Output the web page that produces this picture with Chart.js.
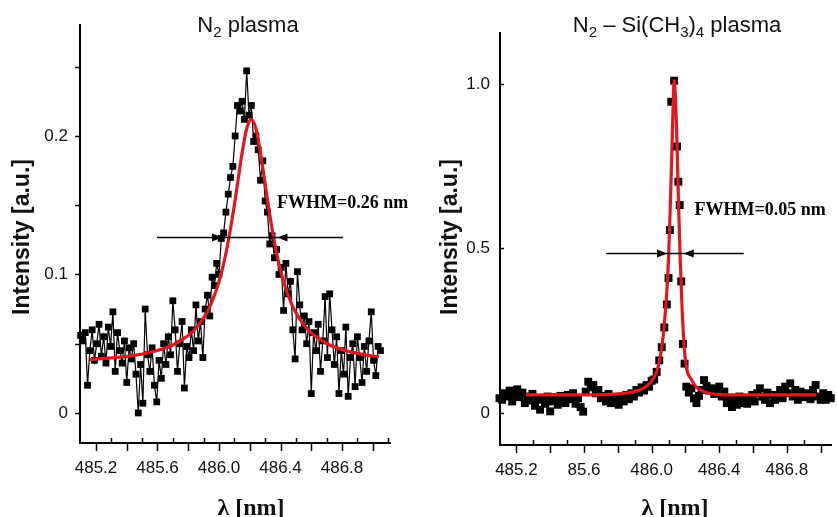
<!DOCTYPE html>
<html>
<head>
<meta charset="utf-8">
<script src="https://cdn.jsdelivr.net/npm/chart.js@4.4.1/dist/chart.umd.min.js"></script>
<style>
  html, body { margin: 0; padding: 0; background: #fff; overflow: hidden; }
  #left { position: absolute; left: 0; top: 0; }
  #right { position: absolute; left: 420px; top: 0; }
</style>
</head>
<body>
<canvas id="left" width="420" height="517"></canvas>
<canvas id="right" width="417" height="517"></canvas>
<script>
// N2 plasma - measured points (wavelength nm / intensity a.u.)
const n2Wavelength = [
  485.1, 485.115, 485.13, 485.145, 485.16, 485.175, 485.19, 485.205, 485.22, 485.235,
  485.25, 485.265, 485.28, 485.295, 485.31, 485.325, 485.34, 485.355, 485.37, 485.385,
  485.4, 485.415, 485.43, 485.445, 485.46, 485.475, 485.49, 485.505, 485.52, 485.535,
  485.55, 485.565, 485.58, 485.595, 485.61, 485.625, 485.64, 485.655, 485.67, 485.685,
  485.7, 485.715, 485.73, 485.745, 485.76, 485.775, 485.79, 485.805, 485.82, 485.835,
  485.85, 485.865, 485.88, 485.895, 485.91, 485.925, 485.94, 485.955, 485.97, 485.985,
  486, 486.015, 486.03, 486.045, 486.06, 486.075, 486.09, 486.105, 486.12, 486.135,
  486.15, 486.165, 486.18, 486.195, 486.21, 486.225, 486.24, 486.255, 486.27, 486.285,
  486.3, 486.315, 486.33, 486.345, 486.36, 486.375, 486.39, 486.405, 486.42, 486.435,
  486.45, 486.465, 486.48, 486.495, 486.51, 486.525, 486.54, 486.555, 486.57, 486.585,
  486.6, 486.615, 486.63, 486.645, 486.66, 486.675, 486.69, 486.705, 486.72, 486.735,
  486.75, 486.765, 486.78, 486.795, 486.81, 486.825, 486.84, 486.855, 486.87, 486.885,
  486.9, 486.915, 486.93, 486.945, 486.96, 486.975, 486.99, 487.005, 487.02, 487.035,
  487.05
]
const n2Intensity = [
  0.056, 0.052, 0.058, 0.020, 0.045, 0.060, 0.038, 0.050, 0.064, 0.041,
  0.055, 0.036, 0.062, 0.048, 0.073, 0.030, 0.058, 0.045, 0.036, 0.052,
  0.022, 0.047, 0.039, 0.050, 0.028, 0.000, 0.035, 0.007, 0.075, 0.042,
  0.030, 0.047, 0.020, 0.008, 0.038, 0.025, 0.050, 0.035, 0.055, 0.042,
  0.081, 0.060, 0.030, 0.050, 0.066, 0.018, 0.048, 0.040, 0.060, 0.045,
  0.078, 0.052, 0.066, 0.040, 0.075, 0.085, 0.070, 0.098, 0.092, 0.108,
  0.100, 0.126, 0.130, 0.145, 0.158, 0.170, 0.178, 0.200, 0.222, 0.218,
  0.225, 0.212, 0.247, 0.215, 0.222, 0.196, 0.200, 0.190, 0.168, 0.182,
  0.153, 0.145, 0.122, 0.128, 0.112, 0.118, 0.100, 0.105, 0.074, 0.108,
  0.086, 0.095, 0.060, 0.039, 0.102, 0.078, 0.060, 0.070, 0.050, 0.066,
  0.014, 0.058, 0.045, 0.064, 0.030, 0.052, 0.084, 0.040, 0.086, 0.060,
  0.035, 0.055, 0.014, 0.045, 0.028, 0.062, 0.012, 0.040, 0.050, 0.019,
  0.055, 0.040, 0.022, 0.048, 0.030, 0.052, 0.073, 0.038, 0.027, 0.048,
  0.045
]
// N2 plasma - fitted profile (red)
const n2FitWavelength = [485.16, 485.3, 485.45, 485.6, 485.7, 485.8, 485.85, 485.9, 485.95, 486.0, 486.05, 486.1, 486.15, 486.18, 486.21, 486.24, 486.27, 486.32, 486.37, 486.42, 486.47, 486.52, 486.57, 486.62, 486.72, 486.82, 486.97, 487.04]
const n2FitIntensity = [0.0385, 0.0397, 0.0416, 0.0451, 0.0491, 0.0559, 0.0612, 0.0686, 0.0792, 0.0948, 0.1178, 0.1501, 0.1876, 0.2052, 0.212, 0.2052, 0.1876, 0.1501, 0.1178, 0.0948, 0.0792, 0.0686, 0.0612, 0.0559, 0.0491, 0.0451, 0.0416, 0.0406]

// N2 - Si(CH3)4 plasma - measured points
const tmsWavelength = [
  485.1, 485.115, 485.13, 485.145, 485.16, 485.175, 485.19, 485.205, 485.22, 485.235,
  485.25, 485.265, 485.28, 485.295, 485.31, 485.325, 485.34, 485.355, 485.37, 485.385,
  485.4, 485.415, 485.43, 485.445, 485.46, 485.475, 485.49, 485.505, 485.52, 485.535,
  485.55, 485.565, 485.58, 485.595, 485.61, 485.625, 485.64, 485.655, 485.67, 485.685,
  485.7, 485.715, 485.73, 485.745, 485.76, 485.775, 485.79, 485.805, 485.82, 485.835,
  485.85, 485.865, 485.88, 485.895, 485.91, 485.925, 485.94, 485.955, 485.97, 485.985,
  486, 486.015, 486.03, 486.045, 486.06, 486.075, 486.09, 486.1, 486.108, 486.116,
  486.133, 486.15, 486.158, 486.166, 486.175, 486.185, 486.195, 486.205, 486.22, 486.235,
  486.25, 486.265, 486.28, 486.295, 486.31, 486.325, 486.34, 486.355, 486.37, 486.385,
  486.4, 486.415, 486.43, 486.445, 486.46, 486.475, 486.49, 486.505, 486.52, 486.535,
  486.55, 486.565, 486.58, 486.595, 486.61, 486.625, 486.64, 486.655, 486.67, 486.685,
  486.7, 486.715, 486.73, 486.745, 486.76, 486.775, 486.79, 486.805, 486.82, 486.835,
  486.85, 486.865, 486.88, 486.895, 486.91, 486.925, 486.94, 486.955, 486.97, 486.985,
  487, 487.015, 487.03, 487.045, 487.06
]
const tmsIntensity = [
  0.045, 0.040, 0.060, 0.050, 0.068, 0.035, 0.055, 0.072, 0.048, 0.062,
  0.030, 0.050, 0.038, 0.058, 0.022, 0.045, 0.010, 0.040, 0.028, 0.050,
  0.005, 0.035, 0.048, 0.025, 0.052, 0.038, 0.030, 0.055, 0.042, 0.060,
  0.028, 0.045, 0.018, 0.004, 0.065, 0.095, 0.078, 0.085, 0.060, 0.070,
  0.045, 0.052, 0.035, 0.058, 0.030, 0.048, 0.040, 0.025, 0.050, 0.035,
  0.055, 0.042, 0.060, 0.050, 0.070, 0.062, 0.078, 0.068, 0.085, 0.080,
  0.098, 0.102, 0.125, 0.160, 0.200, 0.260, 0.330, 0.410, 0.556, 0.946,
  1.010, 0.810, 0.703, 0.632, 0.400, 0.210, 0.150, 0.080, 0.062, 0.075,
  0.045, 0.030, 0.052, 0.070, 0.100, 0.082, 0.068, 0.075, 0.058, 0.070,
  0.080, 0.050, 0.065, 0.030, 0.045, 0.018, 0.040, 0.025, 0.050, 0.030,
  0.045, 0.028, 0.040, 0.055, 0.035, 0.060, 0.075, 0.050, 0.040, 0.062,
  0.030, 0.055, 0.040, 0.048, 0.070, 0.045, 0.080, 0.060, 0.090, 0.050,
  0.070, 0.040, 0.065, 0.055, 0.048, 0.060, 0.042, 0.070, 0.085, 0.050,
  0.040, 0.060, 0.040, 0.055, 0.045
]
const tmsFitWavelength = [485.257, 485.6, 485.8, 485.9, 485.95, 485.99, 486.033, 486.06, 486.075, 486.09, 486.1, 486.11, 486.12, 486.128, 486.133, 486.14, 486.15, 486.16, 486.169, 486.18, 486.198, 486.237, 486.31, 486.41, 486.6, 486.975]
const tmsFitIntensity = [0.055, 0.055, 0.058, 0.065, 0.075, 0.091, 0.13, 0.2, 0.27, 0.37, 0.47, 0.62, 0.8, 0.95, 1.01, 0.97, 0.82, 0.62, 0.47, 0.32, 0.17, 0.1, 0.065, 0.056, 0.055, 0.055]

// axis ticks
const xTickValues = [485.2, 485.6, 486.0, 486.4, 486.8]
const n2XTickLabels = ['485.2', '485.6', '486.0', '486.4', '486.8']
const tmsXTickLabels = ['485.2', '85.6', '486.0', '486.4', '486.8']
const n2YTickValues = [0, 0.1, 0.2]
const n2YTickLabels = ['0', '0.1', '0.2']
const n2YMarks = [0, 0.05, 0.1, 0.15, 0.2, 0.25]
const tmsYTickValues = [0, 0.5, 1.0]
const tmsYTickLabels = ['0', '0.5', '1.0']

const SANS = "'Liberation Sans', Arial, Helvetica, sans-serif"
const SERIF = "'Liberation Serif', 'Times New Roman', serif"
const RED = '#e3161d'

const pts = (xs, ys) => xs.map((x, i) => ({ x, y: ys[i] }))

// titles, axis labels, tick marks and FWHM arrows
const decor = {
  id: 'decor',
  afterDraw(chart, args, o) {
    const { ctx, chartArea: a, scales: { x, y } } = chart
    ctx.save()
    ctx.strokeStyle = '#000'
    ctx.lineWidth = 1.5

    // x tick marks every 0.1 nm: even tenths hang below, odd tenths point up
    for (let k = 0; 485.2 + k * 0.1 <= x.max + 1e-9; k++) {
      const px = Math.round(x.getPixelForValue(485.2 + k * 0.1)) + 0.5
      ctx.beginPath()
      if (k % 2 === 0) { ctx.moveTo(px, a.bottom); ctx.lineTo(px, a.bottom + 8) }
      else { ctx.moveTo(px, a.bottom); ctx.lineTo(px, a.bottom - 5) }
      ctx.stroke()
    }
    // y tick marks
    o.yMarks.forEach(v => {
      const py = Math.round(y.getPixelForValue(v)) + 0.5
      ctx.beginPath()
      ctx.moveTo(a.left, py)
      ctx.lineTo(a.left + o.yMarkLen, py)
      ctx.stroke()
    })

    ctx.fillStyle = '#111'
    // title with subscripts
    const big = '22px ' + SANS, small = '15px ' + SANS
    let w = 0
    o.title.forEach(s => { ctx.font = s.sub ? small : big; w += ctx.measureText(s.t).width })
    let tx = o.titleX - w / 2
    ctx.textBaseline = 'alphabetic'
    ctx.textAlign = 'left'
    o.title.forEach(s => {
      ctx.font = s.sub ? small : big
      ctx.fillText(s.t, tx, o.titleY + (s.sub ? 5 : 0))
      tx += ctx.measureText(s.t).width
    })

    // y axis title
    ctx.save()
    ctx.translate(o.yTitleX, o.yTitleY)
    ctx.rotate(-Math.PI / 2)
    ctx.textAlign = 'center'
    ctx.font = 'bold 23px ' + SANS
    ctx.fillText('Intensity [a.u.]', 0, 0)
    ctx.restore()

    // x axis title
    ctx.textAlign = 'center'
    ctx.font = 'bold 24px ' + SERIF
    ctx.fillText('\u03bb [nm]', o.xTitleX, 515)

    // FWHM arrows
    const f = o.fwhm
    const ay = Math.round(y.getPixelForValue(f.y)) + 0.5
    const x1 = x.getPixelForValue(f.from), x2 = x.getPixelForValue(f.to)
    const tl = x.getPixelForValue(f.tipL), tr = x.getPixelForValue(f.tipR)
    ctx.lineWidth = 1.3
    ctx.beginPath(); ctx.moveTo(x1, ay); ctx.lineTo(x2, ay); ctx.stroke()
    ctx.fillStyle = '#000'
    ctx.beginPath(); ctx.moveTo(tl, ay); ctx.lineTo(tl - 10, ay - 4); ctx.lineTo(tl - 10, ay + 4); ctx.closePath(); ctx.fill()
    ctx.beginPath(); ctx.moveTo(tr, ay); ctx.lineTo(tr + 10, ay - 4); ctx.lineTo(tr + 10, ay + 4); ctx.closePath(); ctx.fill()
    ctx.textAlign = 'left'
    ctx.font = 'bold 18px ' + SERIF
    ctx.fillText(f.text, x.getPixelForValue(f.textX), y.getPixelForValue(f.textY))
    ctx.restore()
  }
}

function panel(id, c) {
  return new Chart(document.getElementById(id), {
    type: 'scatter',
    data: {
      datasets: [
        {
          data: pts(c.fitX, c.fitY), showLine: true, borderColor: RED, borderWidth: 3.2,
          pointRadius: 0, cubicInterpolationMode: 'monotone', order: 0
        },
        {
          data: pts(c.dataX, c.dataY), showLine: c.showLine, borderColor: '#000', borderWidth: 1.2,
          pointStyle: 'rect', pointRadius: c.pointRadius, backgroundColor: '#000',
          pointBorderWidth: 0, order: 1, clip: false
        }
      ]
    },
    options: {
      responsive: false,
      animation: false,
      devicePixelRatio: 1,
      layout: { padding: c.padding },
      plugins: { legend: { display: false }, tooltip: { enabled: false }, decor: c.decor },
      scales: {
        x: {
          type: 'linear', min: c.xMin, max: c.xMax,
          grid: { display: false, drawTicks: false },
          border: { display: true, color: '#000', width: 2 },
          ticks: {
            color: '#111', font: { family: SANS, size: 17 }, padding: 15,
            maxRotation: 0, autoSkip: false,
            callback: (v, i) => c.xLabels[i]
          },
          afterBuildTicks: s => { s.ticks = xTickValues.map(v => ({ value: v })) },
          afterFit: s => { s.height = c.xHeight }
        },
        y: {
          type: 'linear', min: c.yMin, max: c.yMax,
          grid: { display: false, drawTicks: false },
          border: { display: true, color: '#000', width: 2 },
          ticks: {
            color: '#111', font: { family: SANS, size: 17 }, padding: c.yPad,
            callback: (v, i) => c.yLabels[i]
          },
          afterBuildTicks: s => { s.ticks = c.yTicks.map(v => ({ value: v })) },
          afterFit: s => { s.width = 80 }
        }
      }
    },
    plugins: [decor]
  })
}

panel('left', {
  dataX: n2Wavelength, dataY: n2Intensity, fitX: n2FitWavelength, fitY: n2FitIntensity,
  showLine: true, pointRadius: 4.8,
  xMin: 485.096, xMax: 487.112, yMin: -0.0217, yMax: 0.2801,
  xLabels: n2XTickLabels, yTicks: n2YTickValues, yLabels: n2YTickLabels, yPad: 12,
  padding: { left: 0, right: 30, top: 25, bottom: 0 }, xHeight: 74,
  decor: {
    yMarks: n2YMarks, yMarkLen: -5,
    title: [{ t: 'N' }, { t: '2', sub: true }, { t: ' plasma' }], titleX: 248, titleY: 32,
    yTitleX: 29, yTitleY: 237, xTitleX: 251,
    fwhm: { y: 0.1273, from: 485.597, to: 486.806, tipL: 486.02, tipR: 486.38,
      text: 'FWHM=0.26 nm', textX: 486.377, textY: 0.148 }
  }
})

panel('right', {
  dataX: tmsWavelength, dataY: tmsIntensity, fitX: tmsFitWavelength, fitY: tmsFitIntensity,
  showLine: false, pointRadius: 5.6,
  xMin: 485.103, xMax: 487.0635, yMin: -0.0973, yMax: 1.155,
  xLabels: tmsXTickLabels, yTicks: tmsYTickValues, yLabels: tmsYTickLabels, yPad: 10,
  padding: { left: 0, right: 0, top: 33, bottom: 0 }, xHeight: 72,
  decor: {
    yMarks: tmsYTickValues, yMarkLen: 4,
    title: [{ t: 'N' }, { t: '2', sub: true }, { t: ' \u2013 Si(CH' }, { t: '3', sub: true }, { t: ')' }, { t: '4', sub: true }, { t: ' plasma' }],
    titleX: 257, titleY: 32,
    yTitleX: 37, yTitleY: 237, xTitleX: 255,
    fwhm: { y: 0.486, from: 485.731, to: 486.545, tipL: 486.091, tipR: 486.19,
      text: 'FWHM=0.05 nm', textX: 486.254, textY: 0.602 }
  }
})
</script>
</body>
</html>
